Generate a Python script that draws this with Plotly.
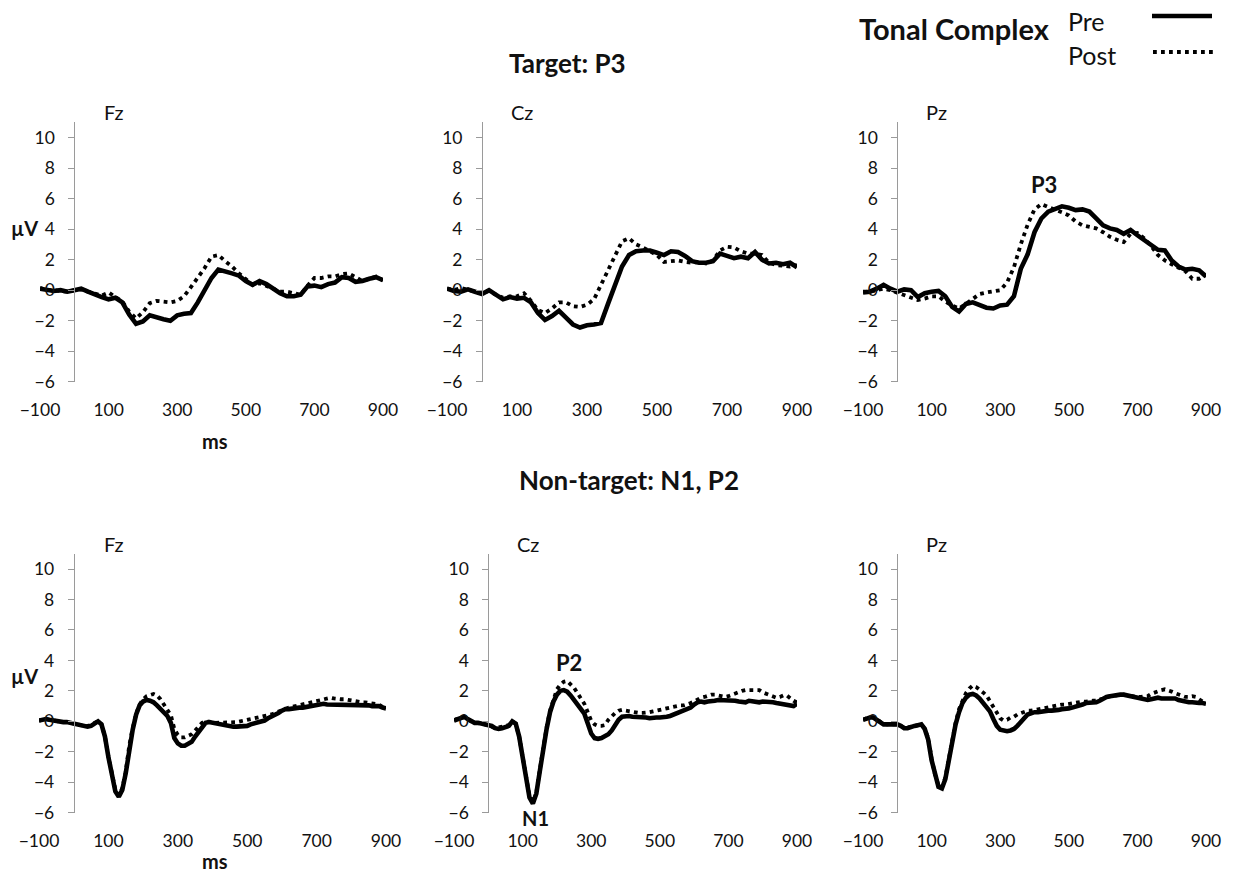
import plotly.graph_objects as go

# ---------------------------------------------------------------------------
# ERP grand averages (µV), Pre vs Post training, Tonal Complex stimuli
# ---------------------------------------------------------------------------
time_target = list(range(-100, 901, 20))      # ms, target epochs
time_nontarget = list(range(-100, 901, 10))   # ms, non-target epochs

# Target condition (P3), 20 ms steps
fz_target_pre = [
    0.1, 0.0, -0.05, 0.0, -0.1, 0.0, 0.1, -0.1, -0.3, -0.45,
    -0.6, -0.5, -0.8, -1.6, -2.2, -2.05, -1.65, -1.8, -1.9, -2.0,
    -1.65, -1.55, -1.5, -0.8, -0.05, 0.8, 1.35, 1.25, 1.1, 0.95,
    0.6, 0.35, 0.6, 0.4, 0.1, -0.2, -0.4, -0.4, -0.3, 0.25,
    0.3, 0.2, 0.4, 0.5, 0.85, 0.8, 0.55, 0.6, 0.75, 0.85,
    0.65]
fz_target_post = [
    0.15, 0.0, 0.0, -0.05, -0.1, 0.0, 0.05, -0.1, -0.25, -0.35,
    -0.15, -0.45, -0.75, -1.4, -1.85, -1.45, -0.85, -0.7, -0.75, -0.8,
    -0.7, -0.4, 0.2, 0.8, 1.45, 2.2, 2.3, 1.9, 1.55, 1.1,
    0.7, 0.35, 0.45, 0.3, 0.1, -0.1, -0.1, -0.2, -0.3, 0.3,
    0.8, 0.8, 0.9, 0.9, 1.05, 1.1, 0.85, 0.6, 0.75, 0.9,
    0.65]
cz_target_pre = [
    0.1, -0.05, -0.1, 0.05, -0.1, -0.25, 0.0, -0.3, -0.6, -0.45,
    -0.55, -0.5, -0.8, -1.5, -1.95, -1.7, -1.35, -1.8, -2.25, -2.45,
    -2.3, -2.25, -2.15, -0.9, 0.3, 1.55, 2.3, 2.55, 2.6, 2.6,
    2.45, 2.3, 2.55, 2.5, 2.25, 1.9, 1.8, 1.8, 1.9, 2.4,
    2.25, 2.1, 2.2, 2.1, 2.5, 2.0, 1.75, 1.8, 1.7, 1.8,
    1.5]
cz_target_post = [
    0.1, 0.0, 0.15, 0.0, -0.1, -0.2, -0.05, -0.3, -0.5, -0.4,
    -0.4, -0.2, -0.7, -1.3, -1.5, -1.2, -0.8, -0.8, -1.05, -1.1,
    -0.95, -0.6, 0.35, 1.3, 2.35, 3.2, 3.4, 3.0, 2.8, 2.55,
    2.3, 1.85, 1.9, 1.95, 1.85, 1.8, 1.85, 1.75, 1.95, 2.6,
    2.85, 2.8, 2.55, 2.4, 2.4, 2.3, 1.8, 1.65, 1.6, 1.55,
    1.65]
pz_target_pre = [
    -0.15, -0.1, 0.1, 0.35, 0.1, -0.1, 0.05, 0.0, -0.45, -0.2,
    -0.1, -0.05, -0.4, -1.1, -1.4, -0.9, -0.8, -0.95, -1.15, -1.2,
    -1.0, -0.95, -0.4, 1.4, 2.35, 3.8, 4.7, 5.15, 5.35, 5.5,
    5.4, 5.25, 5.3, 5.15, 4.7, 4.25, 4.05, 3.95, 3.7, 3.95,
    3.6, 3.3, 2.95, 2.65, 2.6, 1.95, 1.55, 1.35, 1.4, 1.3,
    0.9]
pz_target_post = [
    -0.1, -0.1, 0.0, 0.1, 0.0, -0.15, -0.35, -0.45, -0.65, -0.55,
    -0.4, -0.4, -0.75, -1.0, -1.2, -0.9, -0.55, -0.25, -0.15, -0.1,
    0.0, 0.5, 1.5, 3.0, 4.3, 5.3, 5.65, 5.45, 5.3, 5.1,
    4.9, 4.5, 4.25, 4.15, 4.05, 3.8, 3.5, 3.3, 3.15, 3.7,
    3.75, 3.4, 2.9, 2.3, 1.95, 1.7, 1.45, 1.25, 0.75, 0.75,
    1.0]

# Non-target condition (N1, P2), 10 ms steps
fz_nontarget_pre = [
    0.05, 0.1, 0.15, 0.1, 0.05, 0.0, -0.05, -0.05, -0.05, -0.1,
    -0.15, -0.25, -0.3, -0.35, -0.35, -0.3, -0.1, 0.0, -0.2, -1.0,
    -2.35, -3.6, -4.6, -4.95, -4.5, -3.4, -1.7, -0.55, 0.45, 1.05,
    1.3, 1.4, 1.35, 1.25, 1.05, 0.8, 0.6, 0.35, -0.1, -1.1,
    -1.45, -1.6, -1.6, -1.5, -1.35, -1.0, -0.7, -0.35, -0.1, -0.05,
    -0.1, -0.15, -0.15, -0.2, -0.25, -0.3, -0.35, -0.35, -0.35, -0.35,
    -0.3, -0.2, -0.15, -0.1, 0.0, 0.05, 0.2, 0.3, 0.4, 0.55,
    0.7, 0.8, 0.8, 0.85, 0.85, 0.9, 0.9, 0.95, 1.0, 1.05,
    1.1, 1.15, 1.15, 1.1, 1.1, 1.05, 1.05, 1.05, 1.05, 1.05,
    1.1, 1.1, 1.1, 1.05, 1.05, 1.05, 1.0, 1.0, 1.0, 0.9,
    0.85]
fz_nontarget_post = [
    0.05, 0.1, 0.15, 0.1, 0.05, 0.0, -0.05, -0.05, -0.05, -0.1,
    -0.15, -0.2, -0.3, -0.3, -0.3, -0.25, -0.1, 0.0, -0.2, -1.0,
    -2.3, -3.55, -4.5, -4.85, -4.4, -3.3, -1.6, -0.45, 0.5, 1.1,
    1.45, 1.65, 1.75, 1.8, 1.7, 1.45, 1.1, 0.8, 0.4, -0.5,
    -0.9, -1.05, -1.05, -0.95, -0.85, -0.6, -0.35, -0.1, 0.0, 0.0,
    -0.05, -0.1, -0.1, -0.1, -0.1, -0.1, -0.05, -0.05, 0.0, 0.05,
    0.05, 0.1, 0.2, 0.2, 0.25, 0.3, 0.35, 0.45, 0.55, 0.65,
    0.75, 0.85, 0.9, 0.95, 1.0, 1.05, 1.1, 1.15, 1.2, 1.25,
    1.35, 1.4, 1.45, 1.5, 1.55, 1.5, 1.45, 1.45, 1.45, 1.4,
    1.35, 1.3, 1.3, 1.25, 1.25, 1.2, 1.2, 1.15, 1.1, 0.95,
    0.9]
cz_nontarget_pre = [
    0.05, 0.15, 0.25, 0.3, 0.15, 0.0, -0.1, -0.1, -0.15, -0.2,
    -0.25, -0.3, -0.45, -0.5, -0.45, -0.4, -0.3, 0.0, -0.15, -1.0,
    -2.4, -3.9, -5.0, -5.4, -4.75, -3.3, -1.8, -0.5, 0.6, 1.3,
    1.75, 2.0, 2.05, 1.95, 1.7, 1.4, 1.1, 0.8, 0.5, -0.15,
    -0.8, -1.1, -1.15, -1.1, -1.0, -0.85, -0.6, -0.25, 0.1, 0.3,
    0.35, 0.35, 0.3, 0.3, 0.3, 0.25, 0.25, 0.2, 0.25, 0.25,
    0.25, 0.25, 0.3, 0.35, 0.45, 0.5, 0.6, 0.7, 0.8, 0.9,
    1.1, 1.25, 1.3, 1.25, 1.3, 1.3, 1.35, 1.4, 1.4, 1.35,
    1.4, 1.4, 1.35, 1.3, 1.25, 1.25, 1.35, 1.3, 1.25, 1.25,
    1.3, 1.3, 1.3, 1.25, 1.2, 1.15, 1.15, 1.1, 1.0, 1.0,
    1.15]
cz_nontarget_post = [
    0.05, 0.2, 0.3, 0.25, 0.1, 0.0, -0.1, -0.1, -0.15, -0.2,
    -0.25, -0.35, -0.45, -0.4, -0.4, -0.35, -0.25, 0.0, -0.15, -1.0,
    -2.3, -3.8, -4.9, -5.3, -4.7, -3.2, -1.7, -0.4, 0.7, 1.5,
    2.1, 2.4, 2.6, 2.65, 2.45, 2.2, 1.85, 1.5, 1.15, 0.6,
    0.05, -0.2, -0.3, -0.3, -0.25, 0.1, 0.35, 0.55, 0.7, 0.75,
    0.7, 0.65, 0.6, 0.55, 0.55, 0.55, 0.55, 0.6, 0.65, 0.7,
    0.8, 0.85, 0.9, 0.95, 1.0, 1.0, 1.05, 1.05, 1.1, 1.2,
    1.3, 1.45, 1.55, 1.6, 1.7, 1.75, 1.75, 1.7, 1.6, 1.6,
    1.65, 1.75, 1.8, 1.9, 2.0, 2.05, 2.05, 2.05, 2.1, 2.05,
    1.9, 1.8, 1.7, 1.6, 1.55, 1.6, 1.7, 1.7, 1.5, 1.35,
    1.25]
pz_nontarget_pre = [
    0.1, 0.2, 0.25, 0.25, 0.1, -0.05, -0.2, -0.2, -0.2, -0.2,
    -0.2, -0.3, -0.45, -0.45, -0.35, -0.3, -0.25, -0.2, -0.5, -1.2,
    -2.55, -3.6, -4.3, -4.4, -3.8, -2.6, -1.2, -0.2, 0.6, 1.2,
    1.55, 1.75, 1.8, 1.7, 1.5, 1.25, 1.0, 0.65, 0.15, -0.3,
    -0.55, -0.6, -0.65, -0.6, -0.5, -0.3, -0.1, 0.2, 0.45, 0.55,
    0.6, 0.6, 0.65, 0.65, 0.7, 0.7, 0.7, 0.75, 0.8, 0.8,
    0.85, 0.9, 0.95, 1.0, 1.1, 1.2, 1.2, 1.25, 1.25, 1.35,
    1.5, 1.6, 1.65, 1.7, 1.7, 1.75, 1.75, 1.7, 1.6, 1.55,
    1.5, 1.5, 1.45, 1.4, 1.45, 1.5, 1.55, 1.5, 1.5, 1.5,
    1.5, 1.5, 1.4, 1.35, 1.25, 1.25, 1.25, 1.2, 1.2, 1.2,
    1.15]
pz_nontarget_post = [
    0.1, 0.2, 0.3, 0.25, 0.1, -0.05, -0.15, -0.2, -0.2, -0.2,
    -0.2, -0.3, -0.4, -0.4, -0.35, -0.3, -0.25, -0.2, -0.5, -1.1,
    -2.45, -3.5, -4.2, -4.3, -3.7, -2.5, -1.1, -0.1, 0.8, 1.4,
    1.85, 2.15, 2.35, 2.25, 2.1, 1.9, 1.7, 1.35, 0.95, 0.55,
    0.2, 0.05, 0.1, 0.25, 0.3, 0.45, 0.55, 0.65, 0.7, 0.7,
    0.75, 0.75, 0.8, 0.85, 0.9, 0.95, 1.0, 1.05, 1.1, 1.1,
    1.15, 1.15, 1.2, 1.25, 1.3, 1.3, 1.35, 1.35, 1.35, 1.4,
    1.5, 1.6, 1.65, 1.7, 1.7, 1.75, 1.75, 1.7, 1.65, 1.6,
    1.6, 1.6, 1.6, 1.65, 1.8, 1.9, 2.0, 2.05, 2.1, 2.05,
    1.95, 1.85, 1.75, 1.65, 1.6, 1.6, 1.65, 1.6, 1.45, 1.3,
    1.25]

y_tick_values = [-6, -4, -2, 0, 2, 4, 6, 8, 10]
x_tick_values = [-100, 100, 300, 500, 700, 900]
X_RANGE = [-100, 900]
Y_RANGE = [-6, 11]

# ---------------------------------------------------------------------------
# Layout helpers (canvas pixels -> paper fractions)
# ---------------------------------------------------------------------------
W, H = 1233, 872
FONT = "Lato, 'Open Sans', sans-serif"
AXIS_GREY = "#9a9a9a"
TEXT = "#111111"
PRE_LINE = dict(color="black", width=4.6)
POST_LINE = dict(color="black", width=3.8, dash="3.8px,4.2px")


def fx(px):
    return px / W


def fy(py):
    return 1 - py / H


panels = [
    # (electrode, time, pre, post, x-extent px, y-extent px (top, bottom))
    ("Fz", time_target, fz_target_pre, fz_target_post, (40, 383), (122.4, 381.7)),
    ("Cz", time_target, cz_target_pre, cz_target_post, (447, 797), (122.4, 381.7)),
    ("Pz", time_target, pz_target_pre, pz_target_post, (863, 1206), (122.4, 381.7)),
    ("Fz", time_nontarget, fz_nontarget_pre, fz_nontarget_post, (39, 386), (553.8, 812.7)),
    ("Cz", time_nontarget, cz_nontarget_pre, cz_nontarget_post, (454, 797), (553.8, 812.7)),
    ("Pz", time_nontarget, pz_nontarget_pre, pz_nontarget_post, (863, 1206), (553.8, 812.7)),
]

fig = go.Figure()
layout = {}
annotations = []
n = len(panels)

for i, (elec, t, pre, post, xpx, ypx) in enumerate(panels, start=1):
    xs = "" if i == 1 else str(i)
    xd = [fx(xpx[0]), fx(xpx[1])]
    yd = [fy(ypx[1]), fy(ypx[0])]
    # paper position of x = 0 ms and of y = 0 µV inside this panel
    x0_paper = xd[0] + (0 - X_RANGE[0]) / (X_RANGE[1] - X_RANGE[0]) * (xd[1] - xd[0])
    y0_paper = yd[0] + (0 - Y_RANGE[0]) / (Y_RANGE[1] - Y_RANGE[0]) * (yd[1] - yd[0])

    fig.add_trace(go.Scatter(
        x=t, y=post, mode="lines", name="Post", showlegend=False,
        line=POST_LINE, xaxis=f"x{xs}", yaxis=f"y{xs}", hoverinfo="skip"))
    fig.add_trace(go.Scatter(
        x=t, y=pre, mode="lines", name="Pre", showlegend=False,
        line=PRE_LINE, xaxis=f"x{xs}", yaxis=f"y{xs}", hoverinfo="skip"))

    # bottom axis: carries only the time labels
    layout[f"xaxis{xs}"] = dict(
        domain=xd, range=X_RANGE, anchor=f"y{xs}", automargin=False,
        showline=False, showgrid=False, zeroline=False,
        tickmode="array", tickvals=x_tick_values, ticks="",
        ticklabelstandoff=16,
        tickfont=dict(family=FONT, size=17.5, color=TEXT))
    # vertical axis crossing at 0 ms
    layout[f"yaxis{xs}"] = dict(
        domain=yd, range=Y_RANGE, anchor="free", position=x0_paper,
        automargin=False,
        showline=True, linecolor=AXIS_GREY, linewidth=1,
        showgrid=False, zeroline=False,
        tickmode="array", tickvals=y_tick_values,
        ticks="outside", ticklen=6, tickcolor=AXIS_GREY,
        ticklabelstandoff=10,
        tickfont=dict(family=FONT, size=17.5, color=TEXT))
    # horizontal baseline at 0 µV with its tick marks
    k = i + n
    layout[f"xaxis{k}"] = dict(
        overlaying=f"x{xs}", anchor="free", position=y0_paper, automargin=False,
        range=X_RANGE, showline=True, linecolor=AXIS_GREY, linewidth=1,
        showgrid=False, zeroline=False, showticklabels=False,
        tickmode="array", tickvals=x_tick_values,
        ticks="outside", ticklen=6, tickcolor=AXIS_GREY)

    # electrode name above each panel
    annotations.append(dict(
        text=elec, xref="paper", yref="paper",
        x=fx(xpx[0] + (115 + 100) / 1000 * (xpx[1] - xpx[0])), y=fy(ypx[0] - 10),
        xanchor="center", yanchor="middle", showarrow=False,
        font=dict(family=FONT, size=20, color=TEXT)))

# axis captions
for py_uv, py_ms in [(228, 441), (676, 861)]:
    annotations.append(dict(text="<b>µV</b>", xref="paper", yref="paper",
                            x=fx(24), y=fy(py_uv), xanchor="center", yanchor="middle",
                            showarrow=False, font=dict(family=FONT, size=20, color=TEXT)))
    annotations.append(dict(text="<b>ms</b>", xref="paper", yref="paper",
                            x=fx(215), y=fy(py_ms), xanchor="center", yanchor="middle",
                            showarrow=False, font=dict(family=FONT, size=20, color=TEXT)))

# row headings
annotations.append(dict(text="<b>Target: P3</b>", xref="paper", yref="paper",
                        x=fx(567), y=fy(63), xanchor="center", yanchor="middle",
                        showarrow=False, font=dict(family=FONT, size=26, color=TEXT)))
annotations.append(dict(text="<b>Non-target: N1, P2</b>", xref="paper", yref="paper",
                        x=fx(629), y=fy(480), xanchor="center", yanchor="middle",
                        showarrow=False, font=dict(family=FONT, size=26, color=TEXT)))

# component labels
annotations.append(dict(text="<b>P3</b>", xref="x3", yref="y3", x=428, y=6.9,
                        showarrow=False, font=dict(family=FONT, size=22, color=TEXT)))
annotations.append(dict(text="<b>P2</b>", xref="x5", yref="y5", x=236, y=3.85,
                        showarrow=False, font=dict(family=FONT, size=22, color=TEXT)))
annotations.append(dict(text="<b>N1</b>", xref="paper", yref="paper",
                        x=fx(535), y=fy(818), xanchor="center", yanchor="middle",
                        showarrow=False, font=dict(family=FONT, size=20, color=TEXT)))

# key: Tonal Complex  Pre ——  Post ·····
annotations.append(dict(text="<b>Tonal Complex</b>", xref="paper", yref="paper",
                        x=fx(954), y=fy(29), xanchor="center", yanchor="middle",
                        showarrow=False, font=dict(family=FONT, size=29, color=TEXT)))
annotations.append(dict(text="Pre", xref="paper", yref="paper",
                        x=fx(1066), y=fy(21), xanchor="left", yanchor="middle",
                        showarrow=False, font=dict(family=FONT, size=25, color=TEXT)))
annotations.append(dict(text="Post", xref="paper", yref="paper",
                        x=fx(1066), y=fy(55), xanchor="left", yanchor="middle",
                        showarrow=False, font=dict(family=FONT, size=25, color=TEXT)))

shapes = [
    dict(type="line", xref="paper", yref="paper",
         x0=fx(1152), x1=fx(1212), y0=fy(16), y1=fy(16), line=PRE_LINE),
    dict(type="line", xref="paper", yref="paper",
         x0=fx(1153), x1=fx(1215), y0=fy(52), y1=fy(52), line=POST_LINE),
]

fig.update_layout(
    template="none",
    width=W, height=H,
    margin=dict(l=0, r=0, t=0, b=0, autoexpand=False),
    paper_bgcolor="white", plot_bgcolor="rgba(0,0,0,0)",
    showlegend=False,
    annotations=annotations, shapes=shapes,
    font=dict(family=FONT, color=TEXT),
    **layout)

fig.write_html("out.html")
